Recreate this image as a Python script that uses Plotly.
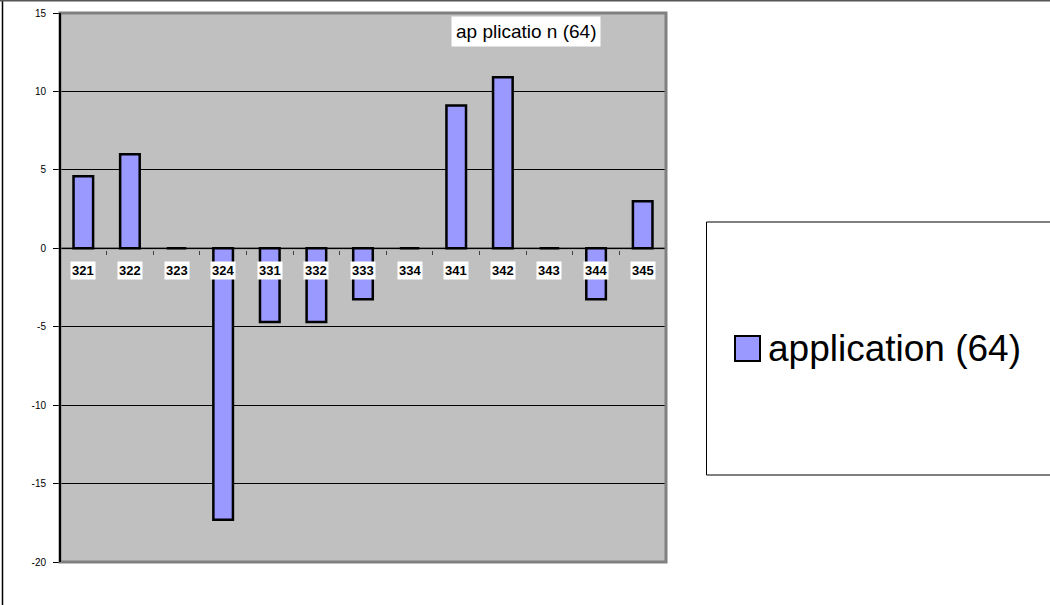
import plotly.graph_objects as go

categories = ["321", "322", "323", "324", "331", "332", "333", "334", "341", "342", "343", "344", "345"]
values = [4.6, 6.0, 0.0, -17.3, -4.7, -4.7, -3.25, 0.0, 9.1, 10.9, 0.0, -3.25, 3.0]
series_name = "application (64)"
chart_title = "ap plicatio n (64)"
y_ticks = [15, 10, 5, 0, -5, -10, -15, -20]

FONT = "Liberation Sans, Arial, sans-serif"

# pixel geometry of plot area
W, H = 1050, 605
L, R, T, B = 60, 384, 13, 43
PW, PH = W - L - R, H - T - B


def px_x(p):
    return (p - L) / PW


def px_y(p):
    return (H - B - p) / PH


fig = go.Figure()
fig.add_trace(go.Bar(
    x=categories, y=values, name=series_name,
    marker=dict(color="#9999FF", line=dict(color="black", width=2.5)),
    width=0.42, showlegend=False,
))

# category labels with white background just below zero line
for i, c in enumerate(categories):
    fig.add_annotation(x=i, y=0, xref="x", yref="y", text="<b>%s</b>" % c, showarrow=False,
                       yshift=-22, bgcolor="white", borderpad=1,
                       xanchor="center", yanchor="middle",
                       font=dict(family=FONT, size=13, color="black"))

# title box
fig.add_annotation(x=px_x(526), y=px_y(32), xref="paper", yref="paper",
                   xanchor="center", yanchor="middle",
                   text=chart_title, showarrow=False, bgcolor="white",
                   borderpad=4, font=dict(family=FONT, size=19, color="black"))

shapes = []
# plot area border (gray)
shapes.append(dict(type="rect", xref="paper", yref="paper", x0=0, x1=1, y0=0, y1=1,
                   line=dict(color="#808080", width=3), layer="above"))
# left axis line black
shapes.append(dict(type="line", xref="paper", yref="paper", x0=0, x1=0, y0=0, y1=1,
                   line=dict(color="black", width=2), layer="above"))
# zero line
shapes.append(dict(type="line", xref="paper", yref="y", x0=0, x1=1, y0=0, y1=0,
                   line=dict(color="#606060", width=2), layer="below"))
# outer chart border (left and top)
shapes.append(dict(type="line", xref="paper", yref="paper", x0=px_x(2.5), x1=px_x(2.5),
                   y0=px_y(0), y1=px_y(610), line=dict(color="black", width=1.5)))
shapes.append(dict(type="line", xref="paper", yref="paper", x0=px_x(0), x1=px_x(1055),
                   y0=px_y(0.5), y1=px_y(0.5), line=dict(color="#555555", width=2)))
# legend box
shapes.append(dict(type="rect", xref="paper", yref="paper", x0=px_x(706.5), x1=px_x(1060),
                   y0=px_y(222), y1=px_y(475), line=dict(color="black", width=1),
                   fillcolor="white"))
# legend swatch
shapes.append(dict(type="rect", xref="paper", yref="paper", x0=px_x(735), x1=px_x(760),
                   y0=px_y(336), y1=px_y(361), line=dict(color="black", width=2),
                   fillcolor="#9999FF"))
fig.add_annotation(x=px_x(766), y=px_y(348), xref="paper", yref="paper",
                   text=series_name, showarrow=False, xanchor="left", yanchor="middle",
                   font=dict(family=FONT, size=37, color="black"))

fig.update_layout(
    width=W, height=H,
    margin=dict(l=L, r=R, t=T, b=B, pad=0, autoexpand=False),
    paper_bgcolor="white", plot_bgcolor="#C0C0C0",
    shapes=shapes,
    bargap=0.58,
    xaxis=dict(type="category", anchor="free", position=px_y(249.5), automargin=False,
               showticklabels=False, ticks="outside", ticklen=4, tickcolor="#404040",
               tickson="boundaries", showgrid=False, showline=False, zeroline=False,
               range=[-0.5, len(categories) - 0.5]),
    yaxis=dict(range=[-20, 15], tickvals=y_ticks, ticktext=[str(v) for v in y_ticks],
               automargin=False, ticklabelstandoff=5,
               ticks="outside", ticklen=6, tickcolor="black",
               showgrid=True, gridcolor="black", gridwidth=1,
               zeroline=False, showline=False,
               tickfont=dict(family=FONT, size=10, color="black")),
    font=dict(family=FONT),
)

fig.write_html("out.html", config={"displayModeBar": False},
               post_script="document.body.style.margin='0';")
